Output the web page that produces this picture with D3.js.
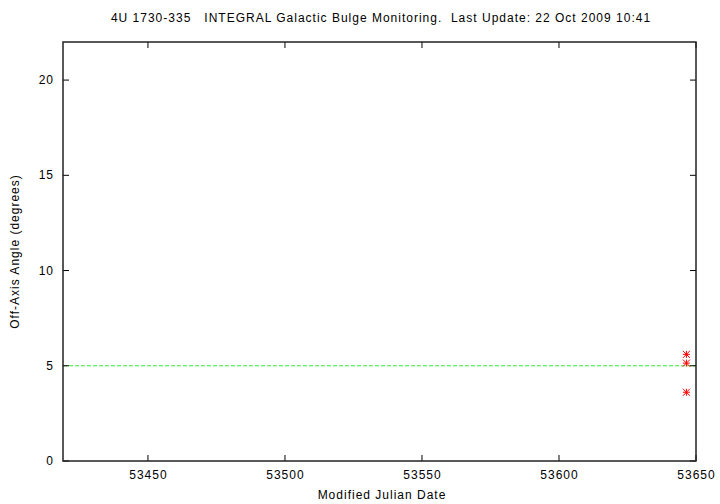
<!DOCTYPE html>
<html><head><meta charset="utf-8">
<script src="https://cdn.jsdelivr.net/npm/d3@7"></script>
<style>body{margin:0;background:#fff}svg{display:block}text{font-family:"Liberation Sans",Arial,sans-serif;font-size:12px;letter-spacing:1px;fill:#000;white-space:pre}</style>
</head><body>
<script>
const title = "4U 1730-335   INTEGRAL Galactic Bulge Monitoring.  Last Update: 22 Oct 2009 10:41";
const xLabel = "Modified Julian Date";
const yLabel = "Off-Axis Angle (degrees)";
const xTicks = [53450, 53500, 53550, 53600, 53650];
const yTicks = [0, 5, 10, 15, 20];
const mjd = [53646.5, 53646.5, 53646.5];
const angle = [5.6, 5.14, 3.61];
const refLine = 5;

const W = 720, H = 504;
const m = {l: 63, r: 24, t: 42, b: 43};
const svg = d3.select("body").append("svg").attr("width", W).attr("height", H);
const x = d3.scaleLinear().domain([53419, 53650]).range([m.l, W - m.r]);
const y = d3.scaleLinear().domain([0, 22]).range([H - m.b, m.t]);

// reference line
svg.append("line").attr("x1", x.range()[0]).attr("x2", x.range()[1])
  .attr("y1", y(refLine)).attr("y2", y(refLine))
  .attr("stroke", "#33ee33").attr("stroke-width", 1).attr("stroke-dasharray", "4,2");

const tk = 6;
const g = svg.append("g").attr("stroke", "#000").attr("stroke-width", 1);
xTicks.forEach(v => {
  g.append("line").attr("x1", x(v)).attr("x2", x(v)).attr("y1", y(0)).attr("y2", y(0) - tk);
  g.append("line").attr("x1", x(v)).attr("x2", x(v)).attr("y1", y(22)).attr("y2", y(22) + tk);
});
yTicks.forEach(v => {
  g.append("line").attr("x1", x.range()[0]).attr("x2", x.range()[0] + tk).attr("y1", y(v)).attr("y2", y(v));
  g.append("line").attr("x1", x.range()[1]).attr("x2", x.range()[1] - tk).attr("y1", y(v)).attr("y2", y(v));
});
svg.append("rect").attr("x", x.range()[0]).attr("y", y(22))
  .attr("width", x.range()[1] - x.range()[0]).attr("height", y(0) - y(22))
  .attr("fill", "none").attr("stroke", "#222").attr("stroke-width", 1.5);

// tick labels
svg.selectAll(".xt").data(xTicks).enter().append("text")
  .attr("x", d => x(d) + 0.5).attr("y", y(0) + 18).attr("text-anchor", "middle").text(d => d);
svg.selectAll(".yt").data(yTicks).enter().append("text")
  .attr("x", x.range()[0] - 9).attr("y", d => y(d) + 4).attr("text-anchor", "end").text(d => d);

// points (asterisks)
const pts = svg.append("g").attr("stroke", "#ff0000").attr("stroke-width", 1);
mjd.forEach((v, i) => {
  const cx = x(v), cy = y(angle[i]), s = 3.5;
  pts.append("path").attr("d",
    `M${cx - s},${cy}H${cx + s}M${cx},${cy - s}V${cy + s}M${cx - s},${cy - s}L${cx + s},${cy + s}M${cx - s},${cy + s}L${cx + s},${cy - s}`);
});

svg.append("text").attr("x", 381).attr("y", 22).attr("text-anchor", "middle").text(title);
svg.append("text").attr("x", 382).attr("y", 499).attr("text-anchor", "middle").text(xLabel);
svg.append("text").attr("transform", `translate(19,${(y(0) + y(22)) / 2}) rotate(-90)`).attr("text-anchor", "middle").text(yLabel);
</script>
</body></html>
